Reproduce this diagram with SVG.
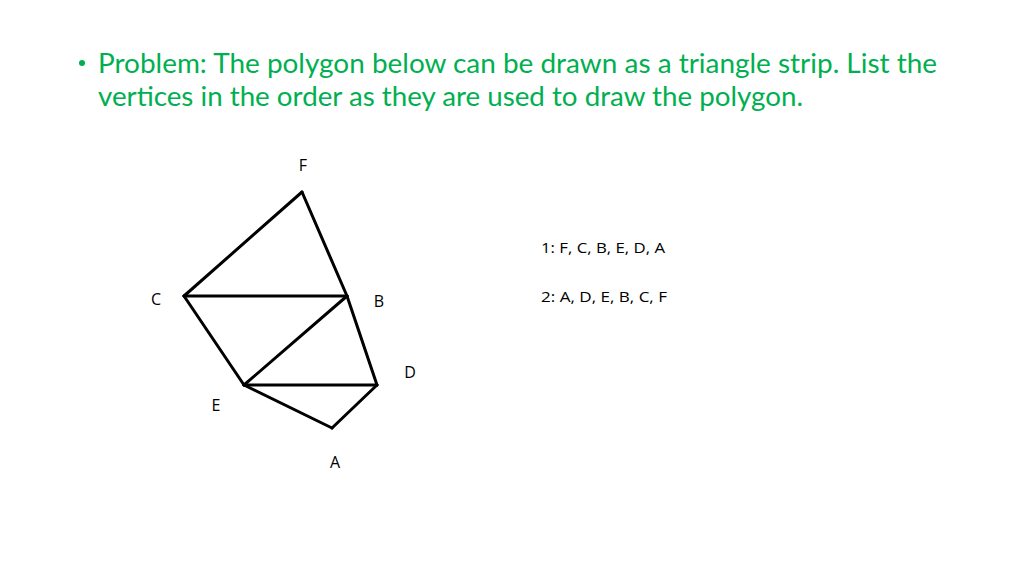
<svg xmlns="http://www.w3.org/2000/svg" width="1024" height="576" viewBox="0 0 1024 576">
<style>
.t{font-family:Lato,"Open Sans","Liberation Sans",sans-serif;fill:#00B050;font-size:27px}
.l{font-family:"Open Sans","Liberation Sans",sans-serif;fill:#000;font-size:16px}
.a{font-family:"Open Sans","Liberation Sans",sans-serif;fill:#000;font-size:15px}
.e{stroke:#000;stroke-width:3;stroke-linecap:round;fill:none}
</style>
<rect width="1024" height="576" fill="#fff"/>
<g id="title">
<circle cx="82" cy="63" r="3" fill="#00B050"/>
<text class="t" x="98" y="73" textLength="839" lengthAdjust="spacingAndGlyphs">Problem: The polygon below can be drawn as a triangle strip.  List the</text>
<text class="t" x="98" y="106" textLength="705" lengthAdjust="spacingAndGlyphs">vertices in the order as they are used to draw the polygon.</text>
</g>
<g id="connectors">
<line class="e" x1="302" y1="192" x2="184" y2="296"/>
<line class="e" x1="302" y1="192" x2="347" y2="296"/>
<line class="e" x1="184" y1="296" x2="347" y2="296"/>
<line class="e" x1="184" y1="296" x2="244" y2="385"/>
<line class="e" x1="347" y1="296" x2="244" y2="385"/>
<line class="e" x1="347" y1="296" x2="377" y2="385"/>
<line class="e" x1="244" y1="385" x2="377" y2="385"/>
<line class="e" x1="244" y1="385" x2="332" y2="428"/>
<line class="e" x1="377" y1="385" x2="332" y2="428"/>
</g>
<g id="F"><text class="l" x="303" y="171" text-anchor="middle">F</text></g>
<g id="C"><text class="l" x="156" y="305" text-anchor="middle">C</text></g>
<g id="B"><text class="l" x="379" y="307" text-anchor="middle">B</text></g>
<g id="D"><text class="l" x="410" y="378" text-anchor="middle">D</text></g>
<g id="E"><text class="l" x="216" y="411" text-anchor="middle">E</text></g>
<g id="A"><text class="l" x="335" y="468" text-anchor="middle">A</text></g>
<g id="answers">
<text class="a" x="541" y="253" textLength="124" lengthAdjust="spacingAndGlyphs">1: F, C, B, E, D, A</text>
<text class="a" x="541" y="302" textLength="126" lengthAdjust="spacingAndGlyphs">2: A, D, E, B, C, F</text>
</g>
</svg>
